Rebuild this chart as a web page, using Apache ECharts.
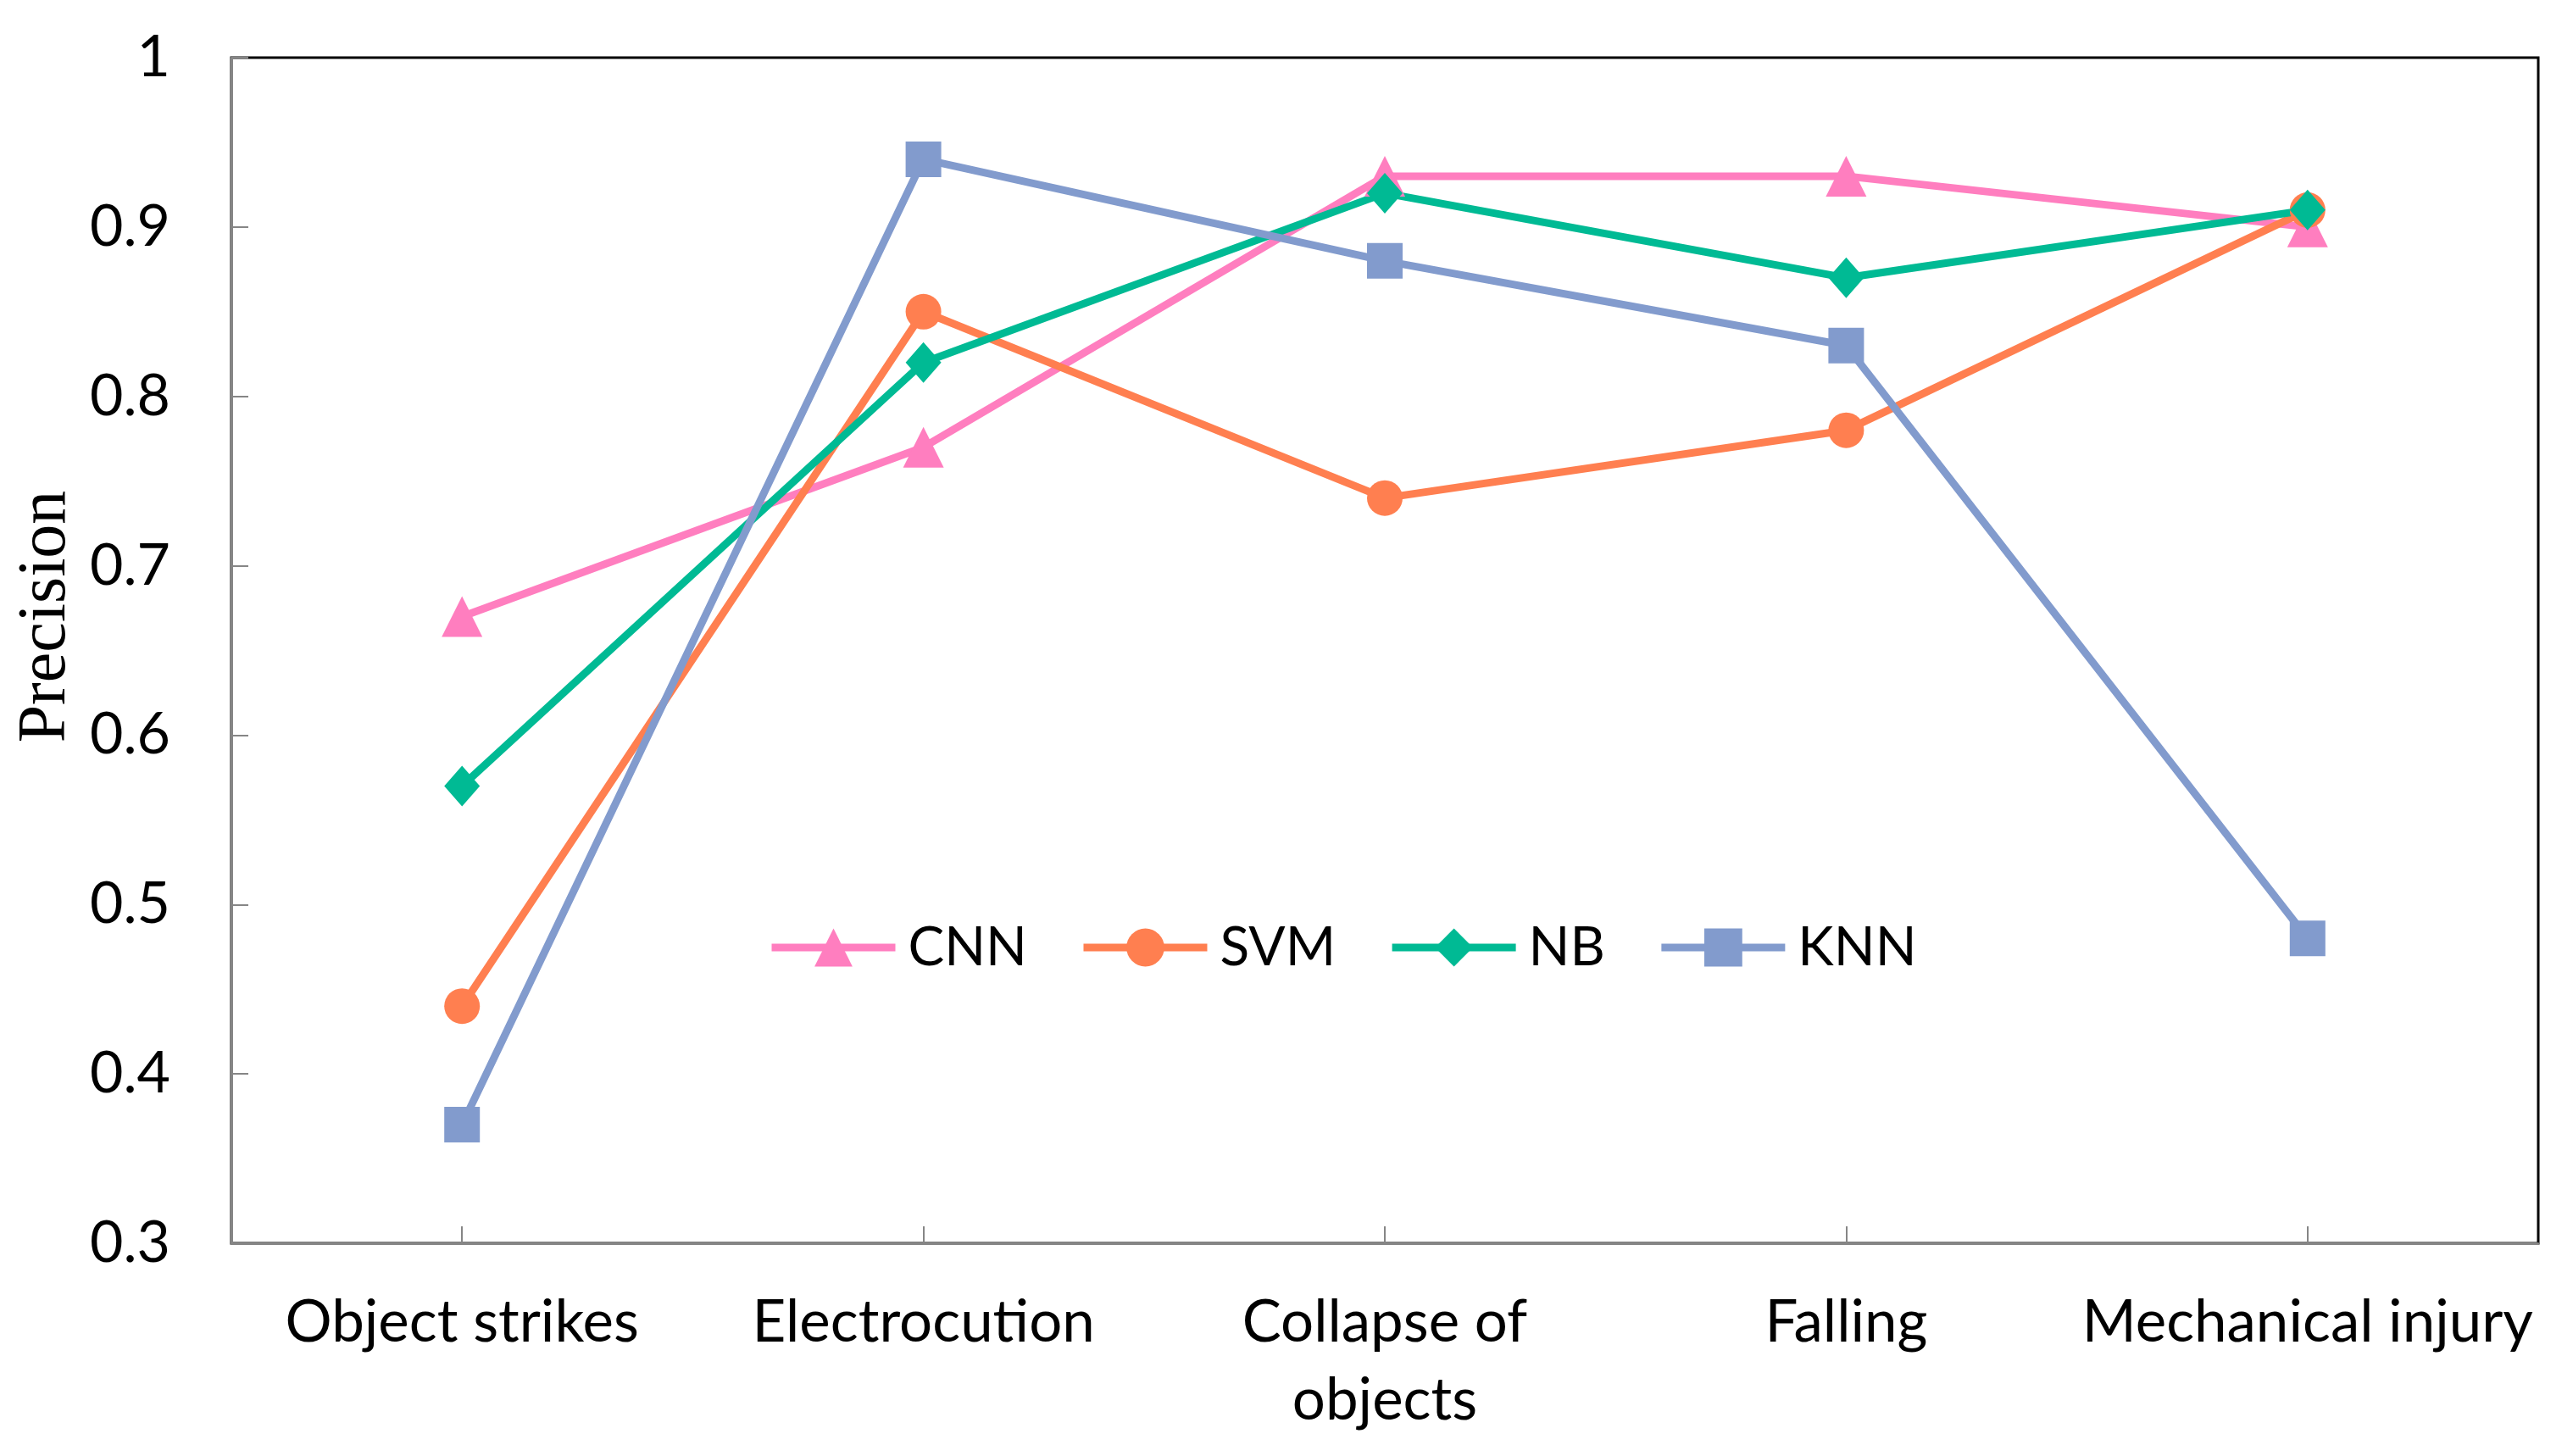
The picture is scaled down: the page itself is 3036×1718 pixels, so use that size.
<!DOCTYPE html>
<html>
<head>
<meta charset="utf-8">
<script src="https://cdn.jsdelivr.net/npm/echarts@6/dist/echarts.min.js"></script>
<style>
html,body{margin:0;padding:0;background:#fff;}
#chart{width:3036px;height:1718px;}
</style>
</head>
<body>
<div id="chart"></div>
<script>
var categories = ['Object strikes', 'Electrocution', 'Collapse of\nobjects', 'Falling', 'Mechanical injury'];
var cnn = [0.67, 0.77, 0.93, 0.93, 0.90];
var svm = [0.44, 0.85, 0.74, 0.78, 0.91];
var nb  = [0.57, 0.82, 0.92, 0.87, 0.91];
var knn = [0.37, 0.94, 0.88, 0.83, 0.48];
var yTicks = {min: 0.3, max: 1, interval: 0.1};

var FONT = 'Lato';
var chart = echarts.init(document.getElementById('chart'), null, {renderer: 'canvas'});

function mk(name, data, color, symbol, size) {
  return {
    name: name, type: 'line', data: data,
    symbol: symbol, symbolSize: size,
    lineStyle: {color: color, width: 9},
    itemStyle: {color: color},
    emphasis: {disabled: true},
    animation: false
  };
}

chart.setOption({
  backgroundColor: '#fff',
  animation: false,
  grid: {left: 273, right: 41, top: 68, bottom: 251, show: true, borderColor: '#000', borderWidth: 3, containLabel: false},
  legend: {
    left: 901, top: 1081,
    itemWidth: 146, itemHeight: 56, itemGap: 62,
    lineStyle: {width: 9},
    textStyle: {fontFamily: FONT, fontSize: 64, color: '#000', padding: [0, 0, 0, 10]},
    data: ['CNN', 'SVM', 'NB', 'KNN']
  },
  xAxis: {
    type: 'category', data: categories, boundaryGap: true,
    axisLine: {show: true, lineStyle: {color: '#868686', width: 3}},
    axisTick: {show: true, inside: true, alignWithLabel: true, length: 20, lineStyle: {color: '#868686', width: 2}},
    axisLabel: {fontFamily: FONT, fontSize: 69, color: '#000', margin: 48, lineHeight: 92, interval: 0},
    z: 5
  },
  yAxis: {
    type: 'value', min: yTicks.min, max: yTicks.max, interval: yTicks.interval,
    name: 'Precision', nameLocation: 'middle', nameGap: 152, nameRotate: 90,
    nameTextStyle: {fontFamily: 'Liberation Serif', fontSize: 80, color: '#000', padding: [0, 0, 0, 80]},
    axisLine: {show: true, lineStyle: {color: '#868686', width: 3}},
    axisTick: {show: true, inside: true, length: 20, lineStyle: {color: '#868686', width: 2}},
    axisLabel: {fontFamily: FONT, fontSize: 68, color: '#000', margin: 72,
      formatter: function (v) { return String(Math.round(v * 10) / 10); }},
    splitLine: {show: false},
    z: 5
  },
  series: [
    mk('CNN', cnn, '#FF7EBF', 'triangle', 48),
    mk('SVM', svm, '#FF7F50', 'circle', 42),
    mk('NB', nb, '#00BA94', 'diamond', [42, 48]),
    mk('KNN', knn, '#829BCD', 'rect', 42)
  ]
});
</script>
</body>
</html>
